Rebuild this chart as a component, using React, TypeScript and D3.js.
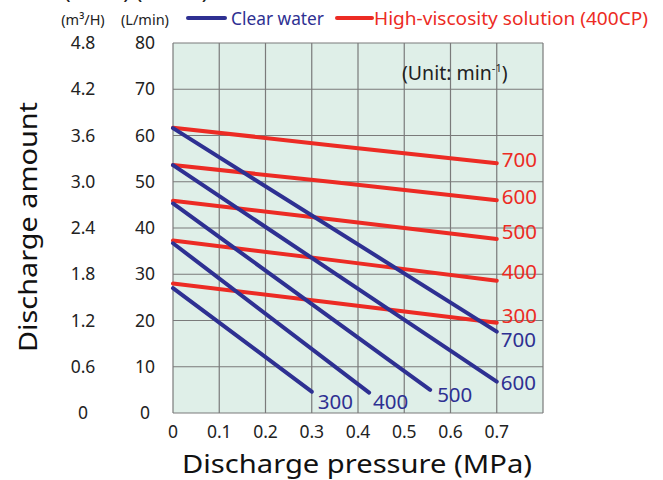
import React from "react";
import * as d3 from "d3";

const speeds = [300, 400, 500, 600, 700];
// Clear water (L/min) lines: start at 0 MPa, end at given pressure
const waterStart = [27.0, 36.7, 45.3, 53.6, 61.6];
const waterEndPressure = [0.3, 0.424, 0.556, 0.7, 0.7];
const waterEnd = [4.6, 4.4, 5.0, 6.8, 17.6];
// High-viscosity solution (400CP) lines at 0, 0.35, 0.7 MPa
const viscPressures = [0, 0.35, 0.7];
const viscStart = [28.0, 37.3, 45.9, 53.6, 61.7];
const viscMid = [23.8, 33.0, 41.8, 49.9, 57.8];
const viscEnd = [19.5, 28.6, 37.6, 46.0, 54.0];

const xTicks = [0, 0.1, 0.2, 0.3, 0.4, 0.5, 0.6, 0.7];
const xGrid = [0, 0.1, 0.2, 0.3, 0.4, 0.5, 0.6, 0.7, 0.8];
const lminTicks = [0, 10, 20, 30, 40, 50, 60, 70, 80];
const m3hTicks = ["0", "0.6", "1.2", "1.8", "2.4", "3.0", "3.6", "4.2", "4.8"];

const BLUE = "#2e3092";
const RED = "#ec2b24";
const FONT = "'Noto Sans', 'DejaVu Sans', sans-serif";

// label offsets (layout only)
const redLabelDy = [-7, -9, -7, -3, -3];
const blueLabelOffset = [
  [6, 10],
  [4, 9],
  [7, 5],
  [4, 1],
  [4, 8],
];

export default function App() {
  const x = d3.scaleLinear().domain([0, 0.8]).range([173, 543]);
  const y = d3.scaleLinear().domain([0, 80]).range([413, 43]);
  const line = d3
    .line<[number, number]>()
    .x((d) => x(d[0]))
    .y((d) => y(d[1]));

  const water = speeds.map((s, i) => ({
    s,
    pts: [
      [0, waterStart[i]],
      [waterEndPressure[i], waterEnd[i]],
    ] as [number, number][],
  }));
  const visc = speeds.map((s, i) => ({
    s,
    pts: viscPressures.map((p, j) => [p, [viscStart[i], viscMid[i], viscEnd[i]][j]]) as [
      number,
      number
    ][],
  }));

  return (
    <svg
      width={663}
      height={480}
      style={{ position: "absolute", left: 0, top: 0, background: "#fff" }}
      fontFamily={FONT}
    >
      {/* cut-off header remnant */}
      <text x={64} y={-1} fontSize={22} fill="#222">
        (m³/H) (L/min)
      </text>

      {/* plot background */}
      <rect x={x(0)} y={y(80)} width={x(0.8) - x(0)} height={y(0) - y(80)} fill="#dfefe8" />
      {xGrid.map((v) => (
        <line key={"vx" + v} x1={x(v)} x2={x(v)} y1={y(0)} y2={y(80)} stroke="#7a7a7a" strokeWidth={1.2} />
      ))}
      {lminTicks.map((v) => (
        <line key={"hy" + v} x1={x(0)} x2={x(0.8)} y1={y(v)} y2={y(v)} stroke="#7a7a7a" strokeWidth={1.2} />
      ))}

      {/* unit */}
      <text x={402} y={80} fontSize={19.5} fill="#222">
        (Unit: min<tspan fontSize={11} dy={-8}>-1</tspan>
        <tspan dy={8}>)</tspan>
      </text>

      {/* viscous lines */}
      {visc.map((d) => (
        <path key={"r" + d.s} d={line(d.pts) || ""} fill="none" stroke={RED} strokeWidth={4} strokeLinecap="round" />
      ))}
      {/* water lines */}
      {water.map((d) => (
        <path key={"b" + d.s} d={line(d.pts) || ""} fill="none" stroke={BLUE} strokeWidth={4} strokeLinecap="round" />
      ))}

      {/* red labels */}
      {visc.map((d, i) => (
        <text
          key={"rl" + d.s}
          x={x(0.7) + 5}
          y={y(viscEnd[i]) + redLabelDy[i]}
          dy="0.35em"
          fontSize={20.5}
          fill={RED}
        >
          {d.s}
        </text>
      ))}
      {/* blue labels */}
      {water.map((d, i) => (
        <text
          key={"bl" + d.s}
          x={x(waterEndPressure[i]) + blueLabelOffset[i][0]}
          y={y(waterEnd[i]) + blueLabelOffset[i][1]}
          dy="0.35em"
          fontSize={20.5}
          fill={BLUE}
        >
          {d.s}
        </text>
      ))}

      {/* y tick labels */}
      {lminTicks.map((v, i) => (
        <g key={"yt" + v}>
          <text x={145} y={y(v)} dy="0.35em" textAnchor="middle" fontSize={17.5} fill="#222">
            {v}
          </text>
          <text x={83} y={y(v)} dy="0.35em" textAnchor="middle" fontSize={17.5} fill="#222">
            {m3hTicks[i]}
          </text>
        </g>
      ))}
      {/* x tick labels */}
      {xTicks.map((v) => (
        <text key={"xt" + v} x={x(v)} y={432} dy="0.35em" textAnchor="middle" fontSize={17.5} fill="#222">
          {v === 0 ? "0" : v.toFixed(1)}
        </text>
      ))}

      {/* units header */}
      <text x={83} y={25} textAnchor="middle" fontSize={14.5} fill="#222">
        (m³/H)
      </text>
      <text x={145} y={25} textAnchor="middle" fontSize={14.5} fill="#222">
        (L/min)
      </text>

      {/* legend */}
      <line x1={188} x2={225} y1={18} y2={18} stroke={BLUE} strokeWidth={4} strokeLinecap="round" />
      <text x={231} y={25} fontSize={18} fill={BLUE} textLength={93} lengthAdjust="spacingAndGlyphs">
        Clear water
      </text>
      <line x1={337} x2={372} y1={18} y2={18} stroke={RED} strokeWidth={4} strokeLinecap="round" />
      <text x={374} y={25} fontSize={18} fill={RED} textLength={274} lengthAdjust="spacingAndGlyphs">
        High-viscosity solution (400CP)
      </text>

      {/* axis titles */}
      <text x={357} y={473} textAnchor="middle" fontSize={25} fill="#111" textLength={350} lengthAdjust="spacingAndGlyphs">
        Discharge pressure (MPa)
      </text>
      <text
        transform="translate(37,227) rotate(-90)"
        textAnchor="middle"
        fontSize={25}
        fill="#111"
        textLength={250}
        lengthAdjust="spacingAndGlyphs"
      >
        Discharge amount
      </text>
    </svg>
  );
}
